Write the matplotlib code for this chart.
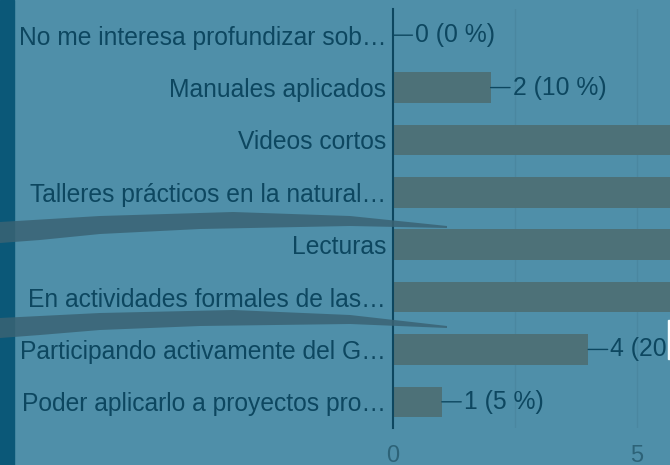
import matplotlib.pyplot as plt
from matplotlib.patches import Polygon, Rectangle

categories = ['No me interesa profundizar sob…', 'Manuales aplicados', 'Videos cortos',
              'Talleres prácticos en la natural…', 'Lecturas', 'En actividades formales de las…',
              'Participando activamente del G…', 'Poder aplicarlo a proyectos pro…']
counts = [0, 2, 11, 12, 9, 10, 4, 1]
total = 20
x_ticks = [0, 5]

bg = '#4f8fa9'
bar_color = '#4d7178'
text_color = '#0d4760'
stroke_color = '#3a6374'

plt.rcParams['font.family'] = ['Liberation Sans', 'DejaVu Sans']

fig = plt.figure(figsize=(6.7, 4.65), dpi=100)
fig.patch.set_facecolor(bg)
W, H = 670, 465
ax = fig.add_axes([393 / W, 1 - 428 / H, 1 - 393 / W, 419 / H])
ax.set_facecolor(bg)

y = list(range(len(categories)))
ax.barh(y, counts, height=0.58, color=bar_color, zorder=2)
ax.set_ylim(len(categories) - 0.5, -0.5)
ax.set_xlim(0, (W - 393) / 48.8)

for yi, c in zip(y, counts):
    ax.annotate('%d (%d %%)' % (c, round(100 * c / total)), xy=(c, yi), xytext=(16, 0),
                textcoords='offset points', va='center', ha='left', fontsize=17.8,
                color=text_color, annotation_clip=False,
                arrowprops=dict(arrowstyle='-', color=text_color, lw=1, shrinkA=0, shrinkB=0))

ax.set_yticks(y)
ax.set_yticklabels(categories, fontsize=17.7, color=text_color)
ax.tick_params(axis='y', length=0, pad=5)
ax.set_xticks(x_ticks)
ax.set_xticklabels([str(t) for t in x_ticks], fontsize=17, color='#2d6378')
ax.tick_params(axis='x', length=0, pad=12)
for t in [2.5, 5, 7.5]:
    ax.axvline(t, color='#4a87a0', lw=1, zorder=1)
for s in ['top', 'right', 'bottom']:
    ax.spines[s].set_visible(False)
ax.spines['left'].set_color(text_color)
ax.spines['left'].set_linewidth(1.5)
ax.spines['left'].set_zorder(3)

# dark strip on the left edge
fig.patches.append(Rectangle((0, 0), 14 / W, 1, transform=fig.transFigure,
                             color='#0b5878', zorder=5))
# white sliver at right
fig.patches.append(Rectangle((668 / W, 1 - 359 / H), 2 / W, 39 / H, transform=fig.transFigure,
                             color='white', zorder=5))

# brush strokes
stroke1 = [(0, 222), (100, 216), (233, 212), (350, 216), (447, 226), (447, 228), (350, 226),
           (200, 229), (100, 234), (40, 240), (0, 243)]
stroke2 = [(0, 318), (100, 313), (233, 310), (350, 315), (447, 326), (447, 328), (350, 324),
           (200, 326), (100, 330), (40, 335), (0, 338)]
for pts in [stroke1, stroke2]:
    fig.patches.append(Polygon([(px / W, 1 - py / H) for px, py in pts], closed=True,
                               transform=fig.transFigure, color=stroke_color, alpha=0.85,
                               zorder=6, lw=0))

fig.savefig('out.png', dpi=100, facecolor=bg)
